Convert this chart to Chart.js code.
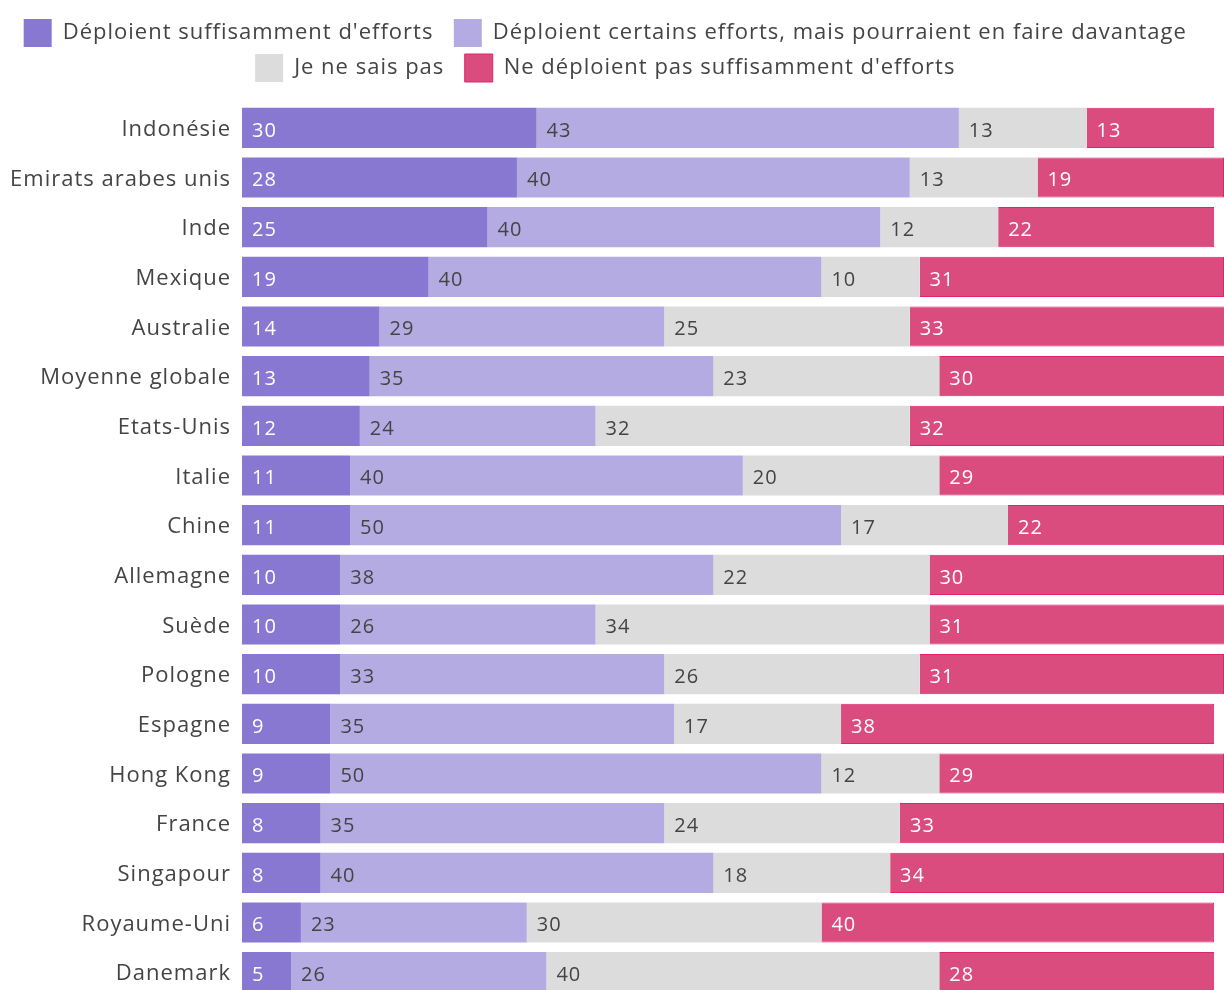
<!DOCTYPE html>
<html>
<head>
<meta charset="utf-8">
<script src="https://cdn.jsdelivr.net/npm/chart.js@4"></script>
<style>
  html, body { margin: 0; padding: 0; background: #fff; overflow: hidden; }
  canvas { display: block; }
</style>
</head>
<body>
<canvas id="chart" width="1224" height="997"></canvas>
<script>
// DATA
const countries = ['Indonésie', 'Emirats arabes unis', 'Inde', 'Mexique', 'Australie', 'Moyenne globale',
  'Etats-Unis', 'Italie', 'Chine', 'Allemagne', 'Suède', 'Pologne', 'Espagne', 'Hong Kong',
  'France', 'Singapour', 'Royaume-Uni', 'Danemark']
const enough = [30, 28, 25, 19, 14, 13, 12, 11, 11, 10, 10, 10, 9, 9, 8, 8, 6, 5]
const couldDoMore = [43, 40, 40, 40, 29, 35, 24, 40, 50, 38, 26, 33, 35, 50, 35, 40, 23, 26]
const dontKnow = [13, 13, 12, 10, 25, 23, 32, 20, 17, 22, 34, 26, 17, 12, 24, 18, 30, 40]
const notEnough = [13, 19, 22, 31, 33, 30, 32, 29, 22, 30, 31, 31, 38, 29, 33, 34, 40, 28]

const FONT = '"Open Sans", Lato, sans-serif'

// a little letter spacing, the original font is wider
const spacing = {
    id: 'spacing',
    beforeUpdate(chart) { chart.ctx.letterSpacing = '1px' },
    beforeDraw(chart) { chart.ctx.letterSpacing = '1px' }
}

// value labels inside each segment
const segmentLabels = {
    id: 'segmentLabels',
    afterDatasetsDraw(chart) {
        const ctx = chart.ctx
        ctx.save()
        ctx.font = '20px ' + FONT
        ctx.textAlign = 'left'
        ctx.textBaseline = 'middle'
        chart.data.datasets.forEach((ds, i) => {
            const meta = chart.getDatasetMeta(i)
            meta.data.forEach((bar, j) => {
                ctx.fillStyle = ds.labelColor
                ctx.fillText(ds.data[j], Math.min(bar.base, bar.x) + 10, bar.y + 3)
            })
        })
        ctx.restore()
    }
}

// fixed legend height so the bars start where the original does
const legendHeight = {
    id: 'legendHeight',
    beforeInit(chart) {
        const fit = chart.legend.fit
        chart.legend.fit = function () {
            fit.call(this)
            this.height = 91
        }
    }
}

const ctx = document.getElementById('chart').getContext('2d')
const chart = new Chart(ctx, {
    type: 'bar',
    data: {
        labels: countries,
        datasets: [
            { label: 'Déploient suffisamment d\'efforts', data: enough,
              backgroundColor: '#8878d2', borderColor: '#8878d2', borderWidth: 0, labelColor: '#ffffff' },
            { label: 'Déploient certains efforts, mais pourraient en faire davantage', data: couldDoMore,
              backgroundColor: '#b5abe3', borderColor: '#b5abe3', borderWidth: 0, labelColor: '#444444' },
            { label: 'Je ne sais pas', data: dontKnow,
              backgroundColor: '#dcdcdc', borderColor: '#dcdcdc', borderWidth: 0, labelColor: '#444444' },
            { label: 'Ne déploient pas suffisamment d\'efforts', data: notEnough,
              backgroundColor: '#db4c7e', borderColor: '#e0226f', borderWidth: 1, labelColor: '#ffffff' }
        ]
    },
    options: {
        indexAxis: 'y',
        responsive: false,
        animation: false,
        barPercentage: 0.81,
        categoryPercentage: 1,
        layout: { padding: { top: 12, left: 0, right: 0, bottom: 0 } },
        scales: {
            x: {
                stacked: true,
                min: 0,
                max: 100,
                display: false
            },
            y: {
                stacked: true,
                grid: { display: false, drawTicks: false },
                border: { display: false },
                ticks: {
                    color: '#444444',
                    font: { family: FONT, size: 22 },
                    padding: 11,
                    labelOffset: 2
                },
                afterFit(scale) {
                    scale.width = 242
                    scale.paddingTop = 0
                    scale.paddingBottom = 0
                }
            }
        },
        plugins: {
            legend: {
                position: 'top',
                labels: {
                    boxWidth: 28,
                    boxHeight: 28,
                    padding: 7,
                    color: '#444444',
                    font: { family: FONT, size: 22 },
                    generateLabels(chart) {
                        const items = Chart.defaults.plugins.legend.labels.generateLabels(chart)
                        items.forEach(item => { item.text = item.text + '  ' })
                        return items
                    }
                }
            },
            tooltip: { enabled: false }
        }
    },
    plugins: [spacing, segmentLabels, legendHeight]
})
</script>
</body>
</html>
